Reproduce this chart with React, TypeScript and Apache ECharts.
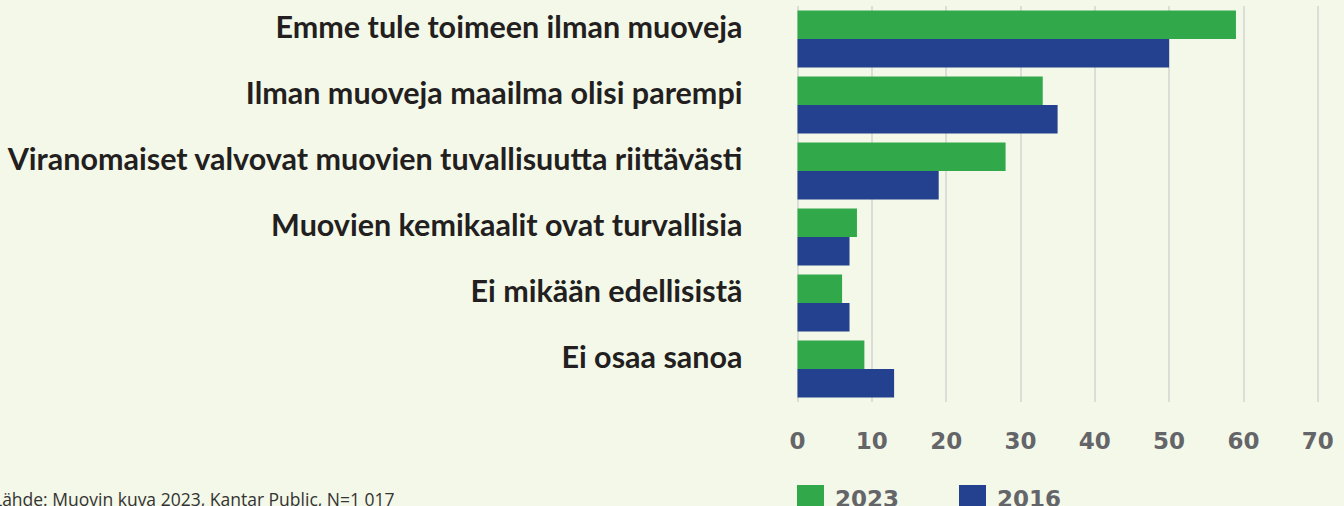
import React, { useEffect, useRef } from "react";
import * as echarts from "echarts";

const categories = [
  "Emme tule toimeen ilman muoveja",
  "Ilman muoveja maailma olisi parempi",
  "Viranomaiset valvovat muovien tuvallisuutta riittävästi",
  "Muovien kemikaalit ovat turvallisia",
  "Ei mikään edellisistä",
  "Ei osaa sanoa",
];
const values2023 = [59, 33, 28, 8, 6, 9];
const values2016 = [50, 35, 19, 7, 7, 13];
const seriesNames = ["2023", "2016"];
const sourceText = "Lähde: Muovin kuva 2023, Kantar Public, N=1 017";

export default function App() {
  const ref = useRef<HTMLDivElement>(null);
  useEffect(() => {
    if (!ref.current) return;
    const chart = echarts.init(ref.current, null, { renderer: "svg" });
    chart.setOption({
      animation: false,
      backgroundColor: "#f4f8e9",
      grid: { left: 797.5, right: 26.3, top: 6, bottom: 104, containLabel: false },
      xAxis: {
        type: "value",
        min: 0,
        max: 70,
        interval: 10,
        axisLine: { show: false },
        axisTick: { show: false },
        splitLine: { show: true, lineStyle: { color: "#d3d5d0", width: 1.5 } },
        axisLabel: {
          margin: 27,
          color: "#646569",
          fontFamily: "DejaVu Sans",
          fontWeight: "bold",
          fontSize: 23,
        },
      },
      yAxis: {
        type: "category",
        data: categories,
        inverse: true,
        axisLine: { show: false },
        axisTick: { show: false },
        axisLabel: {
          margin: 55,
          color: "#231f20",
          fontFamily: "Lato",
          fontWeight: "bold",
          fontSize: 30.5,
          verticalAlign: "bottom",
          lineHeight: 27,
        },
      },
      legend: {
        left: 797,
        top: 485,
        padding: 0,
        itemWidth: 27,
        itemHeight: 27,
        itemGap: 60,
        icon: "rect",
        data: seriesNames,
        textStyle: {
          color: "#646569",
          fontFamily: "DejaVu Sans",
          fontWeight: "bold",
          fontSize: 23,
          padding: [0, 0, 0, 6],
        },
      },
      graphic: [
        {
          type: "text",
          left: -7,
          top: 490,
          style: {
            text: sourceText,
            fill: "#333333",
            font: "17.5px 'Open Sans'",
          },
        },
      ],
      series: [
        {
          name: seriesNames[0],
          type: "bar",
          data: values2023,
          itemStyle: { color: "#31a94a" },
          barGap: "0%",
          barCategoryGap: "13.6%",
        },
        {
          name: seriesNames[1],
          type: "bar",
          data: values2016,
          itemStyle: { color: "#23418e" },
          barGap: "0%",
          barCategoryGap: "13.6%",
        },
      ],
    });
    return () => chart.dispose();
  }, []);
  return (
    <div
      ref={ref}
      style={{ position: "fixed", left: 0, top: 0, width: 1344, height: 506 }}
    />
  );
}
